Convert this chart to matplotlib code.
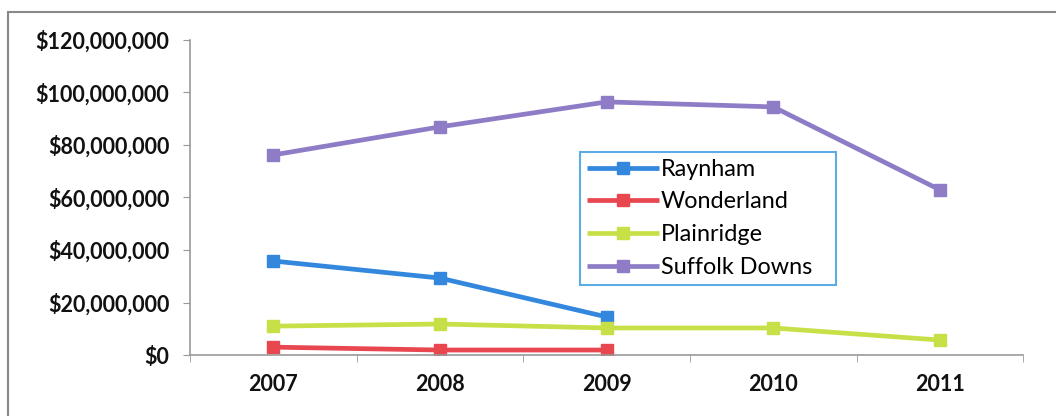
import matplotlib
matplotlib.use("Agg")
import matplotlib.pyplot as plt
from matplotlib.patches import Rectangle
from matplotlib.ticker import FuncFormatter

years = ["2007", "2008", "2009", "2010", "2011"]
raynham = [35.8e6, 29.3e6, 14.5e6]
wonderland = [3.0e6, 1.9e6, 1.9e6]
plainridge = [11.0e6, 11.8e6, 10.3e6, 10.3e6, 5.7e6]
suffolk = [76.2e6, 86.9e6, 96.4e6, 94.5e6, 62.9e6]

series = [
    ("Raynham", raynham, "#3388DD"),
    ("Wonderland", wonderland, "#E8474F"),
    ("Plainridge", plainridge, "#C8E048"),
    ("Suffolk Downs", suffolk, "#8E7CC6"),
]

plt.rcParams['font.family'] = ['Lato', 'DejaVu Sans']

fig = plt.figure(figsize=(10.56, 4.16), dpi=100)
ax = fig.add_axes([0.18, 0.1466, 0.789, 0.7574])

for name, vals, col in series:
    ax.plot(range(len(vals)), vals, color=col, lw=3.4, marker='s', ms=8.5,
            label=name, solid_capstyle='butt')

ax.set_xlim(-0.5, 4.5)
ax.set_ylim(0, 120e6)
ax.set_yticks([0, 20e6, 40e6, 60e6, 80e6, 100e6, 120e6])
ax.yaxis.set_major_formatter(FuncFormatter(lambda v, p: "${:,.0f}".format(v)))
ax.set_xticks(range(len(years)))
ax.set_xticklabels(years)
ax.set_xticks([i + 0.5 for i in range(-1, 5)], minor=True)
ax.tick_params(axis='x', which='major', length=0, pad=14)
ax.tick_params(axis='x', which='minor', length=5, color='#999999')
ax.tick_params(axis='y', length=5, color='#999999', pad=10)
for lab in ax.get_xticklabels() + ax.get_yticklabels():
    lab.set_fontsize(15.5)
    lab.set_fontweight('bold')
    lab.set_color('#111111')
for s in ['top', 'right']:
    ax.spines[s].set_visible(False)
for s in ['left', 'bottom']:
    ax.spines[s].set_color('#999999')
    ax.spines[s].set_linewidth(1.2)

leg = ax.legend(loc='upper left', bbox_to_anchor=(0.468, 0.245, 0.307, 0.4),
                mode='expand', frameon=True,
                fancybox=False, fontsize=16.8, handlelength=3.1, handletextpad=0.05,
                borderpad=0.3, labelspacing=0.5, borderaxespad=0)
leg.get_frame().set_edgecolor('#3399DD')
leg.get_frame().set_linewidth(1.5)

fig.patches.append(Rectangle((8/1056, -0.1), 1.2, 1.1 - 12/416,
                             transform=fig.transFigure, fill=False,
                             edgecolor='#888888', lw=1.5))

fig.savefig("out.png", dpi=100)
